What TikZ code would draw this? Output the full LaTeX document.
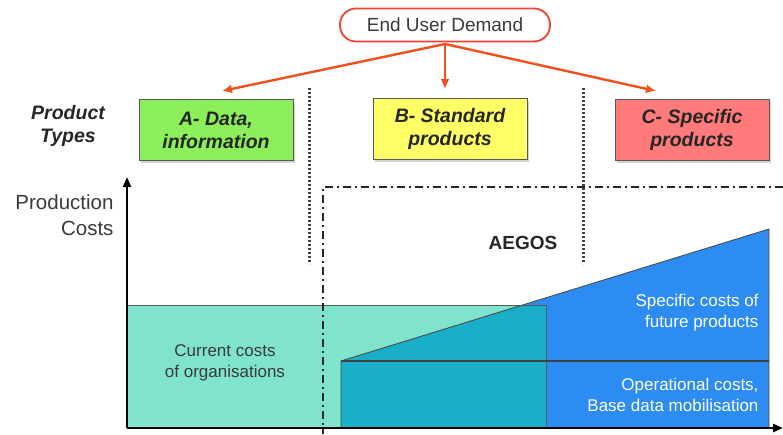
\documentclass[tikz,border=0pt]{standalone}
\usepackage{fontspec}
\setmainfont{Liberation Sans}
\usetikzlibrary{arrows.meta,shadows}
\definecolor{demred}{HTML}{F04030}
\definecolor{arrred}{HTML}{F0501E}
\definecolor{agreen}{HTML}{8CEE5A}
\definecolor{byellow}{HTML}{FFFF66}
\definecolor{cpink}{HTML}{FF7A7A}
\definecolor{lteal}{HTML}{80E4CC}
\definecolor{fblue}{HTML}{2D8CF2}
\definecolor{dteal}{HTML}{1AAFC8}
\definecolor{txtgray}{HTML}{3A3A3A}
\begin{document}
\begin{tikzpicture}[x=1pt,y=-1pt,
  typebox/.style={draw=gray!70!black,line width=0.8pt,minimum width=154pt,minimum height=61pt,
    align=center,font=\fontsize{19.5}{23}\selectfont\bfseries\itshape,text=black!85,
    drop shadow={shadow xshift=2pt,shadow yshift=-2pt,opacity=0.35}},
  demarrow/.style={draw=arrred,line width=2.4pt,-{Latex[length=10pt,width=9pt]}},
  dotline/.style={line width=3pt,dash pattern=on 2pt off 2pt,black!75},
  dashdot/.style={line width=1.6pt,dash pattern=on 8pt off 4pt on 2pt off 4pt,black!85},
  lbl/.style={font=\fontsize{17}{21}\selectfont,align=center}]
\useasboundingbox (0,0) rectangle (783,434);
% demand
\node[draw=demred,line width=1.8pt,rounded corners=16pt,minimum width=210pt,minimum height=33pt,
  font=\fontsize{19}{22}\selectfont,text=txtgray] (dem) at (445,25) {End User Demand};
\coordinate (src) at (445,44);
% product type boxes
\node[typebox,fill=agreen] (A) at (216,130) {A- Data,\\information};
\node[typebox,fill=byellow] (B) at (450,129) {B- Standard\\products};
\node[typebox,fill=cpink] (C) at (692,130) {C- Specific\\products};
\coordinate (Ain) at (222,91);
\coordinate (Bin) at (445,89);
\coordinate (Cin) at (656,91);
\draw[demarrow] (src) -- (Ain);
\draw[demarrow] (src) -- (Bin);
\draw[demarrow] (src) -- (Cin);
\node[font=\fontsize{19.5}{23}\selectfont\bfseries\itshape,align=center,text=black!85] (pt) at (68,126) {Product\\Types};
% cost areas
\fill[lteal] (127,305) rectangle (546,428);
\fill[fblue] (341,361) -- (769,229) -- (769,428) -- (341,428) -- cycle;
\begin{scope}
  \clip (127,305) rectangle (546,428);
  \fill[dteal] (341,361) -- (769,229) -- (769,428) -- (341,428) -- cycle;
\end{scope}
\draw[gray!70!black,line width=1pt] (127,305) -- (546,305) -- (546,428);
\draw[black!70,line width=0.9pt] (341,428) -- (341,361) -- (769,229) -- (769,428);
\draw[black!75,line width=1.2pt] (341,361) -- (769,361);
% dotted separators
\draw[dotline] (309,88) -- (309,264);
\draw[dotline] (583,88) -- (583,264);
% AEGOS dash-dot frame
\draw[dashdot] (783,187) -- (323,187) -- (323,434);
% axes
\coordinate (orig) at (127,428);
\coordinate (ytop) at (127,177);
\coordinate (xend) at (783,428);
\draw[line width=2.6pt,-{Triangle[length=10pt,width=8pt]}] (orig) -- (ytop);
\draw[line width=2.6pt,-{Triangle[length=10pt,width=8pt]}] (orig) -- (xend);
\node[font=\fontsize{20.5}{26}\selectfont,align=right,anchor=east,text=txtgray] (pc) at (117,215) {Production\\Costs};
% labels
\node[font=\fontsize{19}{22}\selectfont\bfseries,text=black!85] (aegos) at (523,243) {AEGOS};
\node[lbl,text=txtgray] (cur) at (225,363) {Current costs\\of organisations};
\node[lbl,text=white,align=right,anchor=east] (spec) at (762,313) {Specific costs of\\future products};
\node[lbl,text=white,align=right,anchor=east] (oper) at (762,395) {Operational costs,\\Base data mobilisation};
\end{tikzpicture}
\end{document}
